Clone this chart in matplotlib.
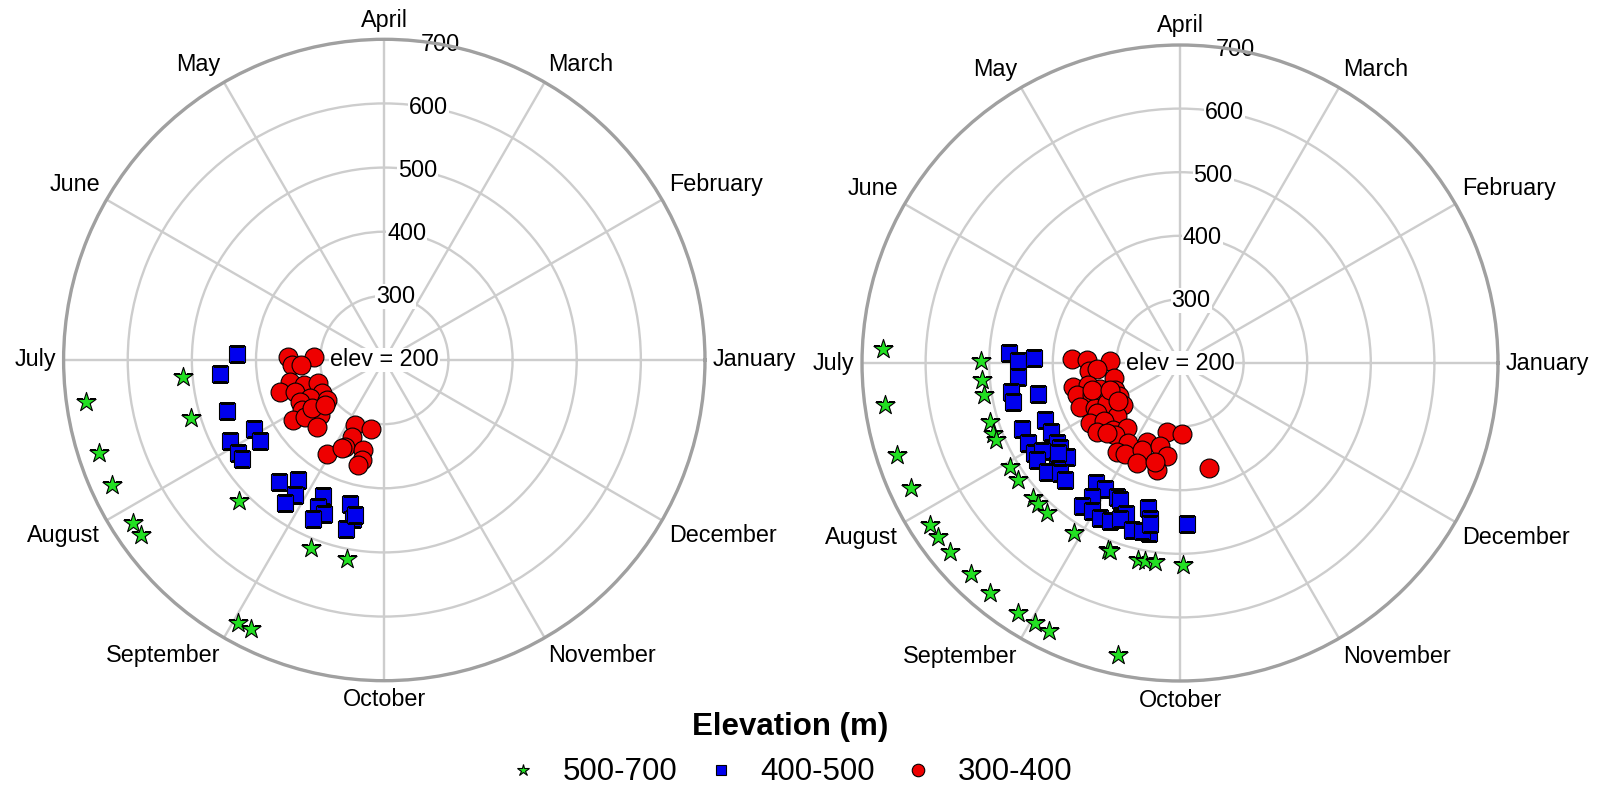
import numpy as np
import matplotlib
matplotlib.use("Agg")
import matplotlib.pyplot as plt
from matplotlib.lines import Line2D

plt.rcParams['font.family'] = ['Liberation Sans', 'DejaVu Sans']

# ---------------- data ----------------
# month position: 0 = January, 1 = February, ... (30 degrees per month)
months = ['January', 'February', 'March', 'April', 'May', 'June',
          'July', 'August', 'September', 'October', 'November', 'December']
r_ticks = [300, 400, 500, 600, 700]
groups = ['500-700', '400-500', '300-400']

# left panel
L_star_month = [6.16, 6.27, 6.56, 6.60, 6.82, 7.47, 7.10, 7.19, 8.29, 8.65, 8.03, 8.12]
L_star_elev = [515, 669, 514, 668, 667, 515, 668, 668, 514, 515, 669, 669]

L_sq_month = [5.92, 6.16, 6.60, 6.93, 7.10, 6.92, 7.08, 7.16, 7.64, 7.81, 7.88, 7.84,
              8.19, 8.19, 8.29, 8.19, 8.56, 8.63, 8.57, 8.64]
L_sq_elev = [430, 457, 458, 430, 431, 471, 471, 471, 451, 430, 452, 472,
             432, 452, 458, 472, 431, 452, 470, 446]

L_circ_month = [5.95, 5.93, 6.10, 6.11, 6.43, 6.56, 6.58, 6.63, 6.65, 6.93, 6.91, 6.88,
                7.16, 7.04, 7.35, 7.12, 7.20, 7.49, 8.19, 8.64, 8.23, 8.19, 8.56, 7.96,
                8.14, 8.58, 8.54, 7.12, 7.24]
L_circ_elev = [350, 310, 344, 330, 351, 370, 331, 310, 348, 310, 330, 346,
               309, 350, 332, 370, 352, 348, 311, 310, 330, 348, 344, 371,
               353, 360, 369, 335, 316]

# right panel
R_star_month = [5.91, 5.98, 6.16, 6.31, 6.27, 6.57, 6.69, 6.76, 6.60, 7.05, 7.19, 6.83,
                7.42, 7.49, 7.61, 7.10, 7.19, 7.31, 7.94, 8.30, 8.32, 8.60, 8.67, 8.76,
                9.03, 7.51, 7.68, 7.90, 8.03, 8.13, 8.60]
R_star_elev = [667, 513, 513, 512, 668, 513, 514, 514, 668, 514, 514, 667,
               514, 515, 515, 668, 668, 668, 515, 515, 516, 516, 516, 516,
               517, 667, 669, 668, 668, 669, 670]

R_sq_month = [5.89, 5.98, 5.94, 6.17, 6.32, 6.44, 6.41, 6.76, 6.76, 6.94,
              7.10, 6.92, 7.18, 7.05, 7.09, 7.33, 7.14, 7.32, 7.31, 7.42,
              7.52, 7.83, 7.98, 8.16, 7.89, 8.21, 7.85, 7.98, 8.09, 8.21,
              8.34, 8.30, 8.46, 8.59, 8.64, 8.66, 8.57, 8.65, 9.08, 7.22]
R_sq_elev = [470, 455, 429, 456, 469, 470, 429, 431, 469, 430,
             431, 470, 431, 470, 457, 431, 471, 451, 470, 456,
             458, 431, 431, 432, 452, 435, 473, 471, 474, 472,
             453, 463, 473, 433, 450, 471, 471, 458, 453, 438]

R_circ_month = [5.93, 5.94, 5.95, 6.17, 6.14, 6.43, 6.43, 6.45, 6.60, 6.75,
                6.57, 6.66, 6.81, 6.95, 6.79, 6.93, 6.96, 7.22, 7.04, 7.34,
                7.13, 7.25, 7.32, 7.50, 7.69, 7.60, 7.91, 8.24, 8.64, 9.05,
                7.82, 7.96, 8.21, 8.55, 8.73, 8.22, 8.59, 8.53, 9.51, 6.57,
                6.70, 7.06, 7.46]
R_circ_elev = [370, 346, 310, 344, 331, 307, 372, 348, 332, 310,
               369, 347, 329, 310, 371, 351, 331, 311, 352, 330,
               370, 351, 369, 348, 332, 352, 350, 334, 311, 312,
               371, 367, 349, 335, 348, 371, 372, 360, 371, 345,
               318, 314, 359]

# ---------------- styling ----------------
STAR_C = '#22e022'
SQ_C = '#0000ee'
CIRC_C = '#ee0000'
GRID_C = '#cdcdcd'
SPINE_C = '#a0a0a0'
FS = 16.8

fig = plt.figure(figsize=(15.99, 7.85), dpi=100)

rects = [[0.03977, 0.13287, 0.40113, 0.81707],
         [0.53909, 0.13248, 0.39775, 0.81019]]

panels = [
    (L_star_month, L_star_elev, L_sq_month, L_sq_elev, L_circ_month, L_circ_elev),
    (R_star_month, R_star_elev, R_sq_month, R_sq_elev, R_circ_month, R_circ_elev),
]


def to_theta(m):
    return np.deg2rad(np.asarray(m) * 30.0)


for rect, (sm, se, qm, qe, cm, ce) in zip(rects, panels):
    ax = fig.add_axes(rect, projection='polar')
    ax.set_ylim(200, 700)
    ax.set_thetagrids(np.arange(0, 360, 30), labels=[''] * 12)
    ax.set_rgrids(r_ticks, labels=[''] * len(r_ticks))
    ax.grid(True, color=GRID_C, linewidth=1.7)
    ax.spines['polar'].set_color(SPINE_C)
    ax.spines['polar'].set_linewidth(2.4)
    ax.set_axisbelow(True)
    ax.tick_params(length=0)

    # month labels
    for i, name in enumerate(months):
        ang = i * 30
        c, s = np.cos(np.deg2rad(ang)), np.sin(np.deg2rad(ang))
        ha = 'left' if c > 0.1 else ('right' if c < -0.1 else 'center')
        va = 'bottom' if s > 0.1 else ('top' if s < -0.1 else 'center')
        ax.text(np.deg2rad(ang), 712, name, ha=ha, va=va, fontsize=FS,
                clip_on=False)

    # radial labels
    for r in r_ticks:
        ax.text(np.deg2rad(80), r, str(r), ha='center', va='center', fontsize=FS,
                bbox=dict(fc='white', ec='none', pad=0.6), zorder=2.5)
    ax.text(0, 200, 'elev = 200', ha='center', va='center', fontsize=FS,
            bbox=dict(fc='white', ec='none', pad=0.6), zorder=2.5)

    ax.scatter(to_theta(sm), se, marker='*', s=210, c=STAR_C, edgecolors='black',
               linewidths=0.8, zorder=3)
    ax.scatter(to_theta(qm), qe, marker='s', s=120, c=SQ_C, edgecolors='black',
               linewidths=0.8, zorder=3)
    ax.scatter(to_theta(cm), ce, marker='o', s=185, c=CIRC_C, edgecolors='black',
               linewidths=0.8, zorder=3)

handles = [
    Line2D([], [], linestyle='none', marker='*', markersize=9, markerfacecolor=STAR_C,
           markeredgecolor='black', markeredgewidth=0.8),
    Line2D([], [], linestyle='none', marker='s', markersize=7.5, markerfacecolor=SQ_C,
           markeredgecolor='black', markeredgewidth=0.8),
    Line2D([], [], linestyle='none', marker='o', markersize=9, markerfacecolor=CIRC_C,
           markeredgecolor='black', markeredgewidth=0.8),
]
leg = fig.legend(handles, groups, loc='lower center', bbox_to_anchor=(0.494, -0.027),
                 ncol=3, frameon=False, fontsize=22.5, title='Elevation (m)',
                 title_fontproperties={'weight': 'bold', 'size': 22.5},
                 handlelength=1.0, handletextpad=0.75, columnspacing=0.9,
                 borderpad=0.1, labelspacing=0.5)

fig.savefig('out.png', dpi=100)
